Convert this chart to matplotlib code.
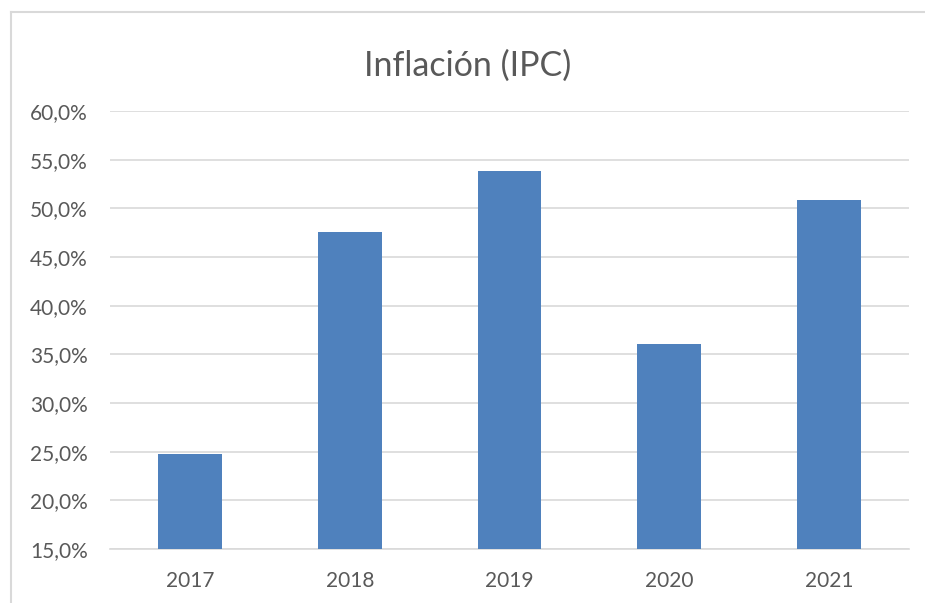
import numpy as np
import matplotlib.pyplot as plt
from matplotlib.lines import Line2D
from matplotlib.ticker import FuncFormatter

years = ['2017', '2018', '2019', '2020', '2021']
ipc = [24.8, 47.6, 53.8, 36.1, 50.9]

plt.rcParams['font.family'] = ['Lato', 'DejaVu Sans']

W, H = 925, 603
fig = plt.figure(figsize=(W / 100, H / 100), dpi=100)
ax = fig.add_axes([110 / W, 1 - 549 / H, (909 - 110) / W, (549 - 111) / H])

x = np.arange(len(years))
ax.bar(x, ipc, width=0.4, color='#4F81BD', zorder=3)

ax.set_xlim(-0.5, len(years) - 0.5)
ax.set_ylim(15, 60)
ax.set_yticks(np.arange(15, 61, 5))
ax.yaxis.set_major_formatter(FuncFormatter(lambda v, p: f'{v:.1f}%'.replace('.', ',')))
ax.set_xticks(x)
ax.set_xticklabels(years)

ax.grid(axis='y', color='#d9d9d9', linewidth=1.2, zorder=0)
for s in ['top', 'right', 'left']:
    ax.spines[s].set_visible(False)
ax.spines['bottom'].set_color('#d9d9d9')
ax.spines['bottom'].set_linewidth(1.2)
ax.tick_params(length=0, labelsize=15, colors='#595959')
ax.tick_params(axis='y', pad=16)
ax.tick_params(axis='x', pad=16)

fig.text(468 / W, 1 - 66 / H, 'Inflación (IPC)', ha='center', va='center',
         fontsize=24.5, color='#595959')

# marco del grafico (cortado a la derecha y abajo)
bx, by = 10.5 / W, 1 - 11.5 / H
fig.add_artist(Line2D([bx, bx], [0, by], color='#d9d9d9', linewidth=1.5))
fig.add_artist(Line2D([bx, 1], [by, by], color='#d9d9d9', linewidth=1.5))

fig.savefig('out.png', dpi=100)
